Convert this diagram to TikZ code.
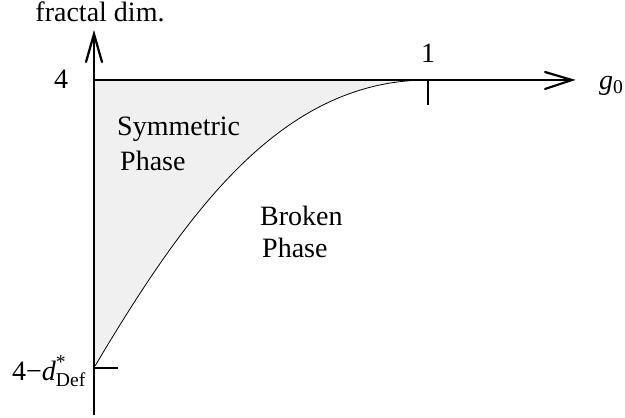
\documentclass[tikz,border=0pt]{standalone}
\usepackage{amsmath}
\usepackage{fontspec}
\setmainfont{Liberation Serif}
\begin{document}
\begin{tikzpicture}[x=1pt,y=-1pt,
  axis/.style={line width=2.6pt},
  tip/.style={line width=2.2pt,line cap=round,line join=miter},
  lbl/.style={inner sep=0pt,font=\fontsize{28}{33}\selectfont},
  phasecurve/.style={line width=0.8pt}]
\useasboundingbox (0,0) rectangle (625,418);
% coordinates
\coordinate (O) at (94,80);
\coordinate (ytop) at (94,34);
\coordinate (ybot) at (94,415);
\coordinate (xend) at (572,80);
\coordinate (one) at (428,80);
\coordinate (onetick) at (428,105);
\coordinate (low) at (94,368);
\coordinate (lowtick) at (118,368);
\coordinate (cstart) at (95,366);
% fill
\fill[black!6] (O) -- (one) .. controls (280,80) and (185,215) .. (cstart) -- (low) -- cycle;
% curve
\draw[phasecurve] (cstart) .. controls (185,215) and (280,80) .. (one);
% axes
\draw[axis] (ybot) -- (ytop);
\draw[axis] (O) -- (xend);
\draw[tip] (86,62) -- (ytop) -- (102,62);
\draw[tip] (545,72) -- (xend) -- (545,89);
% ticks
\draw[axis] (one) -- (onetick);
\draw[axis] (low) -- (lowtick);
% labels
\node[lbl,anchor=base] (ylab) at (100,21) {fractal dim.};
\node[lbl,anchor=base] (four) at (61,88) {4};
\node[lbl,anchor=base] (onelab) at (428,62) {1};
\node[lbl,anchor=base west] (xlab) at (599,89) {\textit{g}\textsubscript{0}};
\node[lbl,anchor=base west] (sym1) at (117,135) {Symmetric};
\node[lbl,anchor=base west] (sym2) at (120,170) {Phase};
\node[lbl,anchor=base west] (br1) at (260,225) {Broken};
\node[lbl,anchor=base west] (br2) at (262,257) {Phase};
\node[lbl,anchor=base west] (dlab) at (12,380) {4−$\textit{d}^{\text{*}}_{\text{Def}}$};
\end{tikzpicture}
\end{document}
